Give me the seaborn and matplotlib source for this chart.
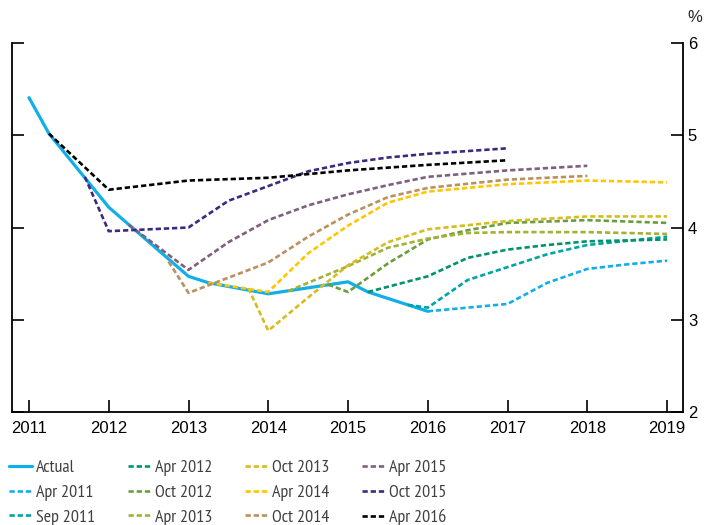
import matplotlib
matplotlib.use("Agg")
import matplotlib.pyplot as plt
import pandas as pd
import seaborn as sns

# axis values
years = [2011, 2012, 2013, 2014, 2015, 2016, 2017, 2018, 2019]
pct_ticks = [2, 3, 4, 5, 6]

# actual outcome
actual_x = [2011, 2011.25, 2012, 2013, 2013.25, 2014, 2015, 2015.25, 2016]
actual_y = [5.41, 5.02, 4.22, 3.47, 3.40, 3.28, 3.41, 3.30, 3.09]

# forecast vintages
apr11_x = [2016, 2017, 2017.5, 2018, 2018.5, 2019]
apr11_y = [3.09, 3.17, 3.40, 3.55, 3.60, 3.64]
sep11_x = [2015.75, 2016, 2016.5, 2017, 2017.5, 2018, 2019]
sep11_y = [3.16, 3.13, 3.43, 3.57, 3.71, 3.81, 3.90]
apr12_x = [2015.25, 2016, 2016.5, 2017, 2017.5, 2018, 2019]
apr12_y = [3.30, 3.47, 3.67, 3.76, 3.81, 3.85, 3.87]
oct12_x = [2014.75, 2015, 2015.5, 2016, 2016.5, 2017, 2018, 2019]
oct12_y = [3.38, 3.30, 3.61, 3.87, 3.97, 4.05, 4.08, 4.05]
apr13_x = [2014.25, 2015, 2015.5, 2016, 2016.5, 2017, 2018, 2019]
apr13_y = [3.31, 3.58, 3.78, 3.88, 3.94, 3.95, 3.95, 3.93]
oct13_x = [2013.75, 2014, 2014.5, 2015, 2015.5, 2016, 2017, 2018, 2019]
oct13_y = [3.34, 2.88, 3.24, 3.59, 3.84, 3.98, 4.07, 4.12, 4.12]
apr14_x = [2013.25, 2014, 2014.5, 2015, 2015.5, 2016, 2017, 2018, 2019]
apr14_y = [3.40, 3.30, 3.72, 4.02, 4.27, 4.39, 4.47, 4.51, 4.49]
oct14_x = [2012.75, 2013, 2014, 2014.5, 2015, 2015.5, 2016, 2017, 2018]
oct14_y = [3.63, 3.29, 3.62, 3.90, 4.14, 4.33, 4.43, 4.52, 4.56]
apr15_x = [2012.25, 2013, 2013.5, 2014, 2014.5, 2015, 2015.5, 2016, 2017, 2018]
apr15_y = [4.03, 3.54, 3.84, 4.08, 4.24, 4.36, 4.46, 4.55, 4.62, 4.67]
oct15_x = [2011.7, 2012, 2013, 2013.5, 2014, 2014.5, 2015, 2015.5, 2016, 2017]
oct15_y = [4.55, 3.96, 4.00, 4.29, 4.45, 4.61, 4.70, 4.76, 4.80, 4.86]
apr16_x = [2011.25, 2012, 2013, 2014, 2015, 2016, 2017]
apr16_y = [5.02, 4.41, 4.51, 4.54, 4.62, 4.68, 4.73]

series = [
    ("Actual", actual_x, actual_y, "#12aee8"),
    ("Apr 2011", apr11_x, apr11_y, "#12aee8"),
    ("Sep 2011", sep11_x, sep11_y, "#00a3a6"),
    ("Apr 2012", apr12_x, apr12_y, "#00936b"),
    ("Oct 2012", oct12_x, oct12_y, "#6a9e3a"),
    ("Apr 2013", apr13_x, apr13_y, "#a3b136"),
    ("Oct 2013", oct13_x, oct13_y, "#d7bc1f"),
    ("Apr 2014", apr14_x, apr14_y, "#ffc600"),
    ("Oct 2014", oct14_x, oct14_y, "#b9905f"),
    ("Apr 2015", apr15_x, apr15_y, "#7e5f7d"),
    ("Oct 2015", oct15_x, oct15_y, "#3d2a80"),
    ("Apr 2016", apr16_x, apr16_y, "#000000"),
]

sns.set_style("white")
plt.rcParams["font.family"] = ["Liberation Sans", "DejaVu Sans"]

fig = plt.figure(figsize=(7.07, 5.25), dpi=100)
ax = fig.add_axes([12 / 707, 1 - 411.7 / 525, 671 / 707, 368.4 / 525])

handles = []
for name, xs, ys, col in series:
    df = pd.DataFrame({"year": xs, "value": ys})
    if name == "Actual":
        sns.lineplot(data=df, x="year", y="value", color=col, linewidth=2.3,
                     ax=ax, sort=False, estimator=None)
    else:
        sns.lineplot(data=df, x="year", y="value", color=col, linewidth=1.9,
                     ax=ax, sort=False, estimator=None)
        ax.lines[-1].set_dashes((2.0, 1.1))
    handles.append(ax.lines[-1])

ax.set_xlim(2010.787, 2019.2)
ax.set_ylim(2, 6)
ax.set_xticks(years)
ax.set_yticks(pct_ticks)
ax.set_xlabel("")
ax.set_ylabel("")

for side in ["left", "right", "bottom"]:
    ax.spines[side].set_visible(True)
    ax.spines[side].set_color("black")
    ax.spines[side].set_linewidth(1.3)
ax.spines["top"].set_visible(False)

ax.yaxis.set_ticks_position("both")
ax.xaxis.set_ticks_position("bottom")
ax.tick_params(axis="both", direction="in", length=8.5, width=1.2,
               colors="black", labelsize=12)
ax.tick_params(axis="x", pad=7)
ax.tick_params(axis="y", labelleft=False, labelright=True, pad=3.5)

fig.text(695 / 707, 1 - 17 / 525, "%", ha="center", va="center", fontsize=12)

fig.legend(handles, [s[0] for s in series], ncol=4, loc="upper left",
           bbox_to_anchor=(9 / 707, 1 - 459.5 / 525), frameon=False,
           borderpad=0, borderaxespad=0, handlelength=1.3, handletextpad=0.2,
           columnspacing=1.8, labelspacing=0.45, labelcolor="#404040",
           prop={"family": ["PT Sans Narrow", "Liberation Sans"], "size": 13})

fig.savefig("out.png", dpi=100)
